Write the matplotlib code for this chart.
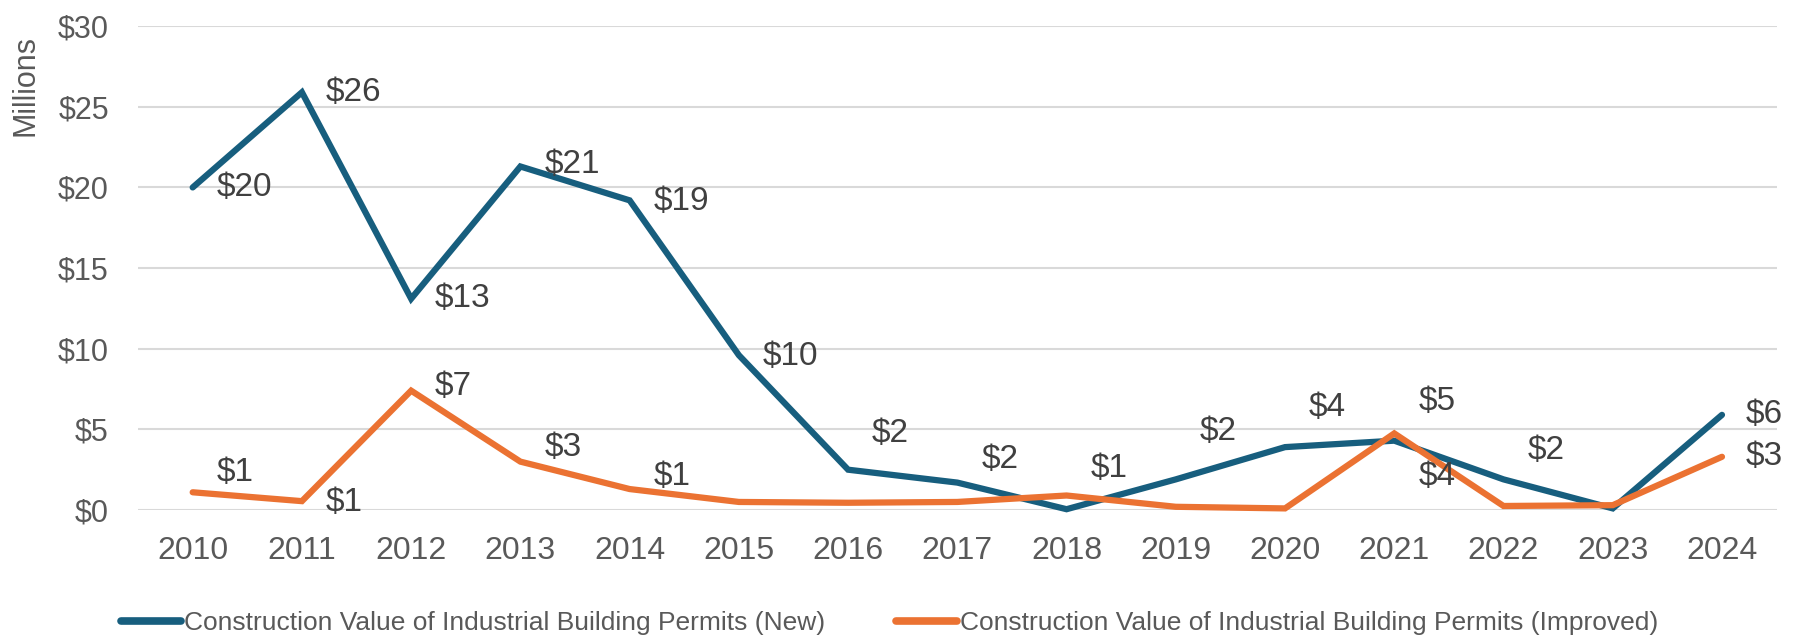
import matplotlib.pyplot as plt
import numpy as np

plt.rcParams['font.family'] = ['Liberation Sans', 'DejaVu Sans']

# data
years = ['2010', '2011', '2012', '2013', '2014', '2015', '2016', '2017',
         '2018', '2019', '2020', '2021', '2022', '2023', '2024']
new_vals = [20.0, 25.9, 13.1, 21.3, 19.2, 9.6, 2.5, 1.7, 0.05, 1.9, 3.9, 4.3, 1.9, 0.1, 5.9]
improved_vals = [1.1, 0.55, 7.4, 3.0, 1.3, 0.5, 0.45, 0.5, 0.9, 0.2, 0.1, 4.75, 0.25, 0.3, 3.3]

new_labels = ['$20', '$26', '$13', '$21', '$19', '$10', '$2', '$2', '$1', '$2', '$4', '$4', '$2', '', '$6']
improved_labels = ['$1', '$1', '$7', '$3', '$1', '', '', '', '', '', '', '$5', '', '', '$3']

# label vertical offsets (pixels), Excel-style manual nudges
new_dy = [0, 0, 0, 2, -1, -1, 36, 23, 41, 48, 40, -36, 29, 0, 0]
improved_dy = [20, -1, 4, 14, 13, 0, 0, 0, 0, 0, 0, 32, 0, 0, 0]

blue = '#175E7E'
orange = '#EB7232'
txt = '#595959'

fig = plt.figure(figsize=(18, 6.38), dpi=100)
ax = fig.add_axes([0.0767, 0.2006, 0.9103, 0.7584])

x = np.arange(len(years))
ax.plot(x, new_vals, color=blue, lw=4.5, label='Construction Value of Industrial Building Permits (New)',
        clip_on=False, solid_joinstyle='miter', solid_capstyle='round', zorder=3)
ax.plot(x, improved_vals, color=orange, lw=4.5, label='Construction Value of Industrial Building Permits (Improved)',
        clip_on=False, solid_joinstyle='miter', solid_capstyle='round', zorder=3)

for xi, v, s, d in zip(x, new_vals, new_labels, new_dy):
    if s:
        ax.annotate(s, (xi, v), xytext=(24, d), textcoords='offset pixels',
                    ha='left', va='center', fontsize=24, color='#404040')
for xi, v, s, d in zip(x, improved_vals, improved_labels, improved_dy):
    if s:
        ax.annotate(s, (xi, v), xytext=(24, d), textcoords='offset pixels',
                    ha='left', va='center', fontsize=24, color='#404040')

ax.set_xlim(-0.5, 14.5)
ax.set_ylim(0, 30)
ax.set_xticks(x)
ax.set_xticklabels(years, fontsize=23)
ax.set_yticks(range(0, 31, 5))
ax.set_yticklabels(['$%d' % t for t in range(0, 31, 5)], fontsize=22)
ax.tick_params(axis='both', length=0, labelcolor=txt)
ax.tick_params(axis='y', pad=21)
ax.tick_params(axis='x', pad=19)
ax.grid(axis='y', color='#D9D9D9', lw=1.5)
ax.set_axisbelow(True)
for sp in ax.spines.values():
    sp.set_visible(False)

fig.text(25 / 1800, 1 - 86 / 638, 'Millions', rotation=90, ha='center', va='center',
         fontsize=22, color=txt)

leg = fig.legend(loc='center', bbox_to_anchor=(0.494, 1 - 623 / 638), ncol=2, frameon=False,
                 fontsize=19, handlelength=2.3, handletextpad=0.1, columnspacing=2.7,
                 labelcolor=txt)
for h in leg.get_lines():
    h.set_linewidth(5.5)

fig.savefig('out.png', dpi=100)
